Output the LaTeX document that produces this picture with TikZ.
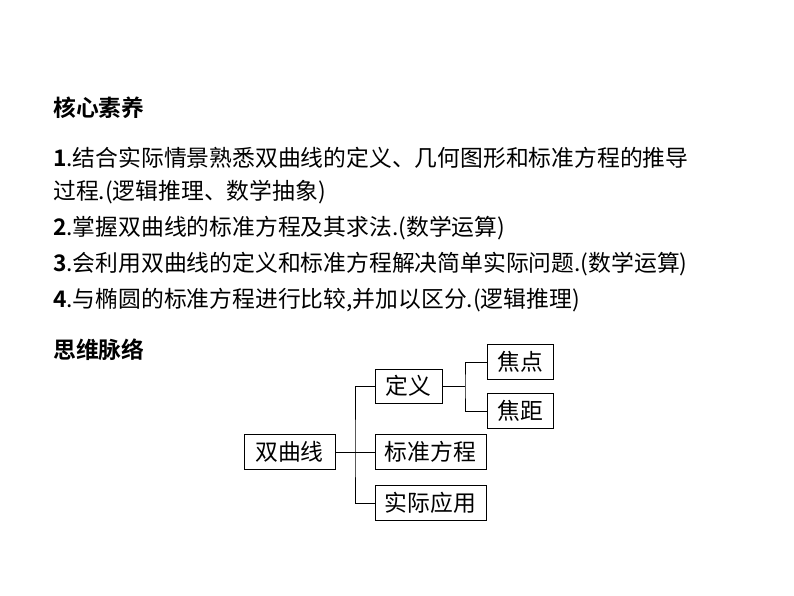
\documentclass[tikz,border=0pt]{standalone}
\usepackage{fontspec}
\setmainfont{Noto Sans CJK SC}[BoldFont={Noto Sans CJK SC Bold}]
\begin{document}
\begin{tikzpicture}[x=1pt,y=-1pt,
  txt/.style={anchor=west,inner sep=0pt,font=\fontsize{22.8}{24}\selectfont},
  bx/.style={draw,line width=1pt,inner sep=0pt,minimum height=35pt,font=\fontsize{22.8}{24}\selectfont},
  ln/.style={line width=1pt}]
\useasboundingbox (0,0) rectangle (794,596);
\node[txt] (h1) at (53,108) {\textbf{核心素养}};
\node[txt] (l1) at (53,158) {\textbf{1}.结合实际情景熟悉双曲线的定义、几何图形和标准方程的推导};
\node[txt] (l1b) at (53,192) {过程.(逻辑推理、数学抽象)};
\node[txt] (l2) at (53,228) {\textbf{2}.掌握双曲线的标准方程及其求法.(数学运算)};
\node[txt] (l3) at (53,264) {\textbf{3}.会利用双曲线的定义和标准方程解决简单实际问题.(数学运算)};
\node[txt] (l4) at (53,300) {\textbf{4}.与椭圆的标准方程进行比较,并加以区分.(逻辑推理)};
\node[txt] (h2) at (53,350) {\textbf{思维脉络}};
\node[bx,minimum width=91pt] (s) at (289.5,452) {双曲线};
\node[bx,minimum width=67pt,minimum height=34pt] (d) at (408.5,386) {定义};
\node[bx,minimum width=66pt] (j1) at (520,362) {焦点};
\node[bx,minimum width=66pt] (j2) at (520,411) {焦距};
\node[bx,minimum width=111pt] (b) at (430.5,452) {标准方程};
\node[bx,minimum width=111pt] (y) at (430.5,503) {实际应用};
\coordinate (m1) at (355,452);
\coordinate (m2) at (465,386);
\draw[ln] (s.east) -- (m1);
\draw[ln] (d.west) -| (m1) |- (y.west);
\draw[ln] (m1) -- (b.west);
\draw[ln] (d.east) -- (m2);
\draw[ln] (j1.west) -| (m2) |- (j2.west);
\end{tikzpicture}
\end{document}
